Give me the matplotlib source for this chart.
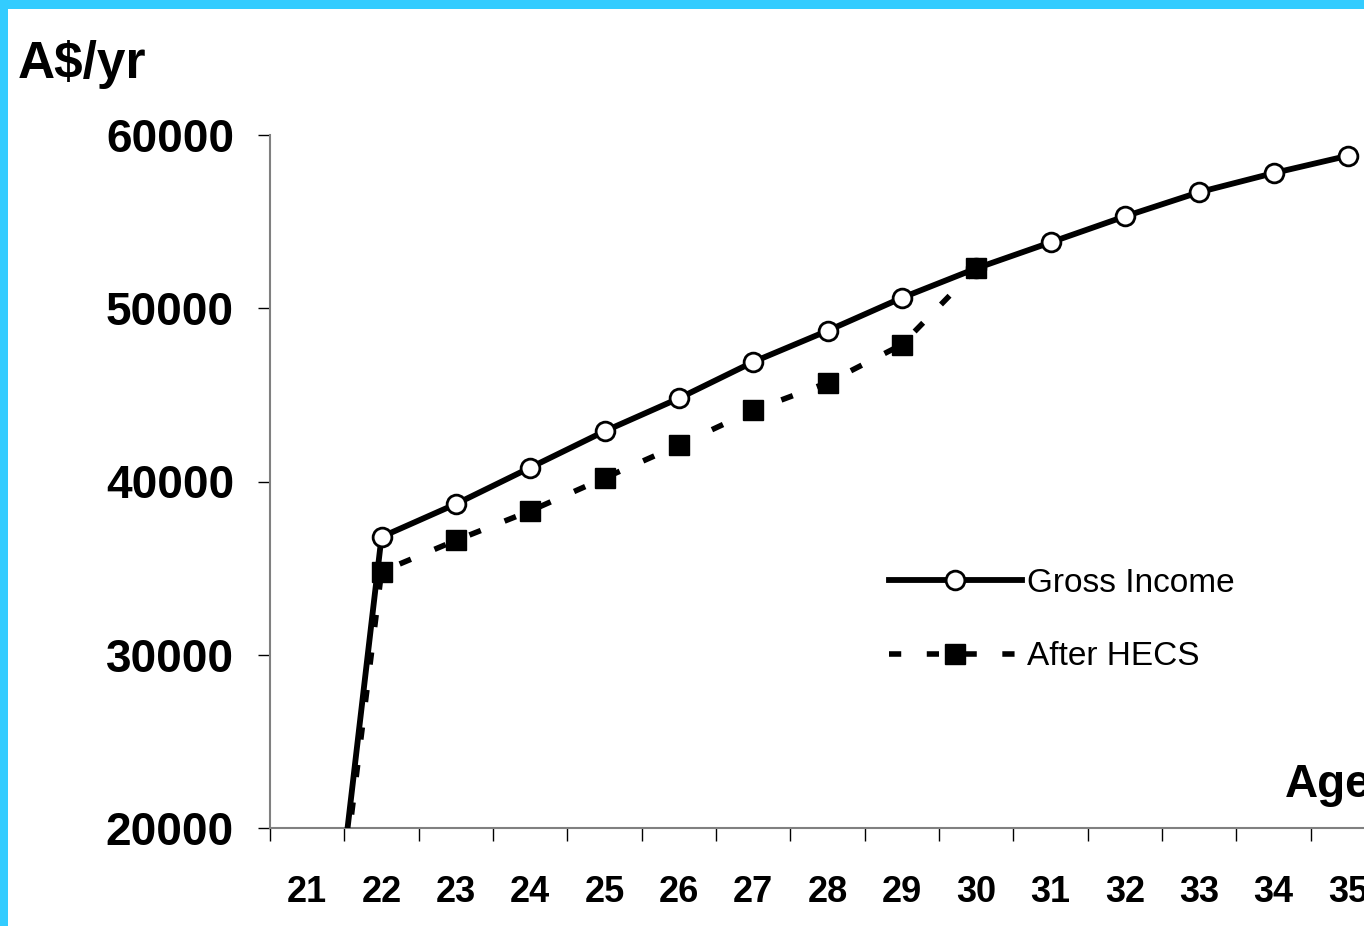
import numpy as np
import matplotlib
matplotlib.use('Agg')
import matplotlib.pyplot as plt
from matplotlib.patches import Rectangle

# ages on the category axis
ages = [21, 22, 23, 24, 25, 26, 27, 28, 29, 30, 31, 32, 33, 34, 35]
# annual income, A$
gross_income = [0, 36800, 38700, 40800, 42900, 44800, 46900, 48700, 50600,
                52300, 53800, 55300, 56700, 57800, 58800]
# after HECS repayments (debt cleared by 30)
after_hecs = [0, 34800, 36600, 38300, 40200, 42100, 44100, 45700, 47900,
              52300, np.nan, np.nan, np.nan, np.nan, np.nan]
y_ticks = [20000, 30000, 40000, 50000, 60000]

font = 'Liberation Sans'

fig = plt.figure(figsize=(13.64, 9.26), dpi=100)
fig.patch.set_facecolor('white')

# cyan frame along top and left
fig.add_artist(Rectangle((0, 1 - 9 / 926), 1, 9 / 926, transform=fig.transFigure,
                         facecolor='#33CCFF', edgecolor='none'))
fig.add_artist(Rectangle((0, 0), 8 / 1364, 1, transform=fig.transFigure,
                         facecolor='#33CCFF', edgecolor='none'))

ax = fig.add_axes([270 / 1364, 98 / 926, 1115 / 1364, 693 / 926])
x = np.arange(len(ages))

ax.plot(x, gross_income, color='black', lw=4.2, marker='o', markersize=13.5,
        markerfacecolor='white', markeredgecolor='black', markeredgewidth=2,
        label='Gross Income', zorder=3)
ax.plot(x, after_hecs, color='black', lw=4.0, linestyle=(0, (2.2, 4.6)),
        marker='s', markersize=14.5, markerfacecolor='black',
        markeredgecolor='black', label='After HECS', zorder=4)

ax.set_xlim(-0.5, len(ages) - 0.5)
ax.set_ylim(20000, 60000)

for s in ['top', 'right']:
    ax.spines[s].set_visible(False)
for s in ['left', 'bottom']:
    ax.spines[s].set_color('#808080')
    ax.spines[s].set_linewidth(1.5)

ax.set_yticks(y_ticks)
ax.set_yticklabels([str(v) for v in y_ticks], fontfamily=font,
                   fontweight='bold', fontsize=33)
ax.tick_params(axis='y', direction='out', length=9, width=1, color='black', pad=17)

# labels at category centres, tick marks on the boundaries
ax.set_xticks(x)
ax.set_xticklabels([str(a) for a in ages], fontfamily=font,
                   fontweight='bold', fontsize=26)
ax.tick_params(axis='x', which='major', length=0, pad=34)
ax.set_xticks(np.arange(len(ages) + 1) - 0.5, minor=True)
ax.tick_params(axis='x', which='minor', direction='out', length=9, width=1,
               color='black')

fig.text(18 / 1364, 1 - 78 / 926, 'A\\$/yr', fontfamily=font, fontweight='bold',
         fontsize=37, ha='left', va='baseline')
fig.text(1285 / 1364, 1 - 797 / 926, 'Age', fontfamily=font, fontweight='bold',
         fontsize=33, ha='left', va='baseline')

leg = ax.legend(loc='upper left', bbox_to_anchor=(872 / 1364, 1 - 551 / 926),
                bbox_transform=fig.transFigure, frameon=False,
                prop={'family': font, 'size': 24}, handlelength=4.0,
                handletextpad=0.15, labelspacing=1.28, borderpad=0)

fig.savefig('out.png', dpi=100, facecolor='white')
